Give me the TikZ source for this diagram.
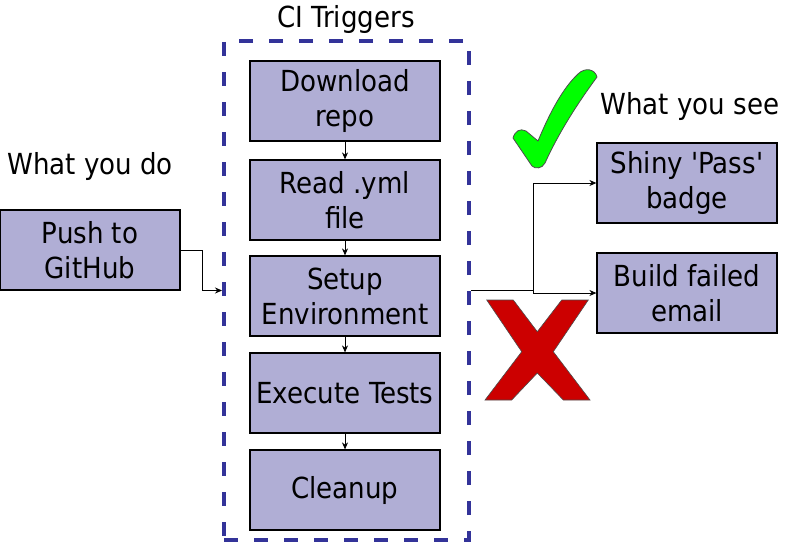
\documentclass[tikz,border=0pt]{standalone}
\usepackage{fontspec}
\setmainfont{DejaVu Sans Condensed}[Ligatures=TeXOff]
\usetikzlibrary{arrows.meta}
\definecolor{boxfill}{RGB}{176,174,213}
\definecolor{frameblue}{RGB}{51,51,153}
\definecolor{okgreen}{RGB}{0,255,0}
\definecolor{badred}{RGB}{204,0,0}
\begin{document}
\begin{tikzpicture}[x=1pt,y=-1pt,
  stepbox/.style={draw=black, line width=1.2pt, fill=boxfill, minimum width=190pt, minimum height=80pt, align=center, font=\fontsize{29}{35}\selectfont, inner sep=0pt},
  sidebox/.style={stepbox, minimum width=180pt},
  lbl/.style={font=\fontsize{29}{35}\selectfont, inner sep=0pt},
  conn/.style={-{Stealth[length=7pt,width=6pt]}, line width=0.8pt},
  plain/.style={line width=0.8pt}]
\useasboundingbox (0,0) rectangle (792,543);
% frame
\node[draw=frameblue, line width=4pt, dash pattern=on 14pt off 16pt, minimum width=245pt, minimum height=499pt, inner sep=0pt] (frame) at (346.5,290.5) {};
\node[lbl] (title) at (346,20) {CI Triggers};
% step boxes
\node[stepbox] (dl) at (345,101) {Download\\repo};
\node[stepbox] (read) at (345,200) {Read .yml\\file};
\node[stepbox] (setup) at (345,296) {Setup\\Environment};
\node[stepbox] (exec) at (345,393) {Execute Tests};
\node[stepbox] (clean) at (345,490) {Cleanup};
\draw[conn] (dl) -- (read);
\draw[conn] (read) -- (setup);
\draw[conn] (setup) -- (exec);
\draw[conn] (exec) -- (clean);
% left
\node[lbl] (doLbl) at (90,166) {What you do};
\node[sidebox] (push) at (90,250) {Push to\\GitHub};
\draw[conn] (push.east) -- (202,250) |- (frame.west);
% right
\node[lbl] (seeLbl) at (690,106) {What you see};
\node[sidebox] (shiny) at (687,183) {Shiny 'Pass'\\badge};
\node[sidebox] (build) at (687,293) {Build failed\\email};
\coordinate (split) at (533,290.5);
\draw[plain] (frame.east) -- (split);
\draw[conn] (split) |- (shiny.west);
\draw[conn] (split) |- (build.west);
% check mark
\draw[fill=okgreen, draw=black!70, line width=0.8pt]
  (513,138) .. controls (515,131) and (520,128) .. (526,131) -- (538,141)
  .. controls (550,112) and (563,88) .. (578,74)
  .. controls (585,67) and (595,69) .. (597,77)
  .. controls (580,100) and (560,130) .. (545,163)
  .. controls (542,169) and (535,169) .. (532,166) -- cycle;
% red X
\draw[fill=badred, draw=black!70, line width=0.6pt]
  (486.7,300) -- (513.3,300) -- (537.3,331.7) -- (561.7,300) -- (588.3,300) -- (553.3,351.7) -- (590,400) -- (563.3,400) -- (537.3,373) -- (511.7,400) -- (485,400) -- (521.7,351.7) -- cycle;
\end{tikzpicture}
\end{document}
